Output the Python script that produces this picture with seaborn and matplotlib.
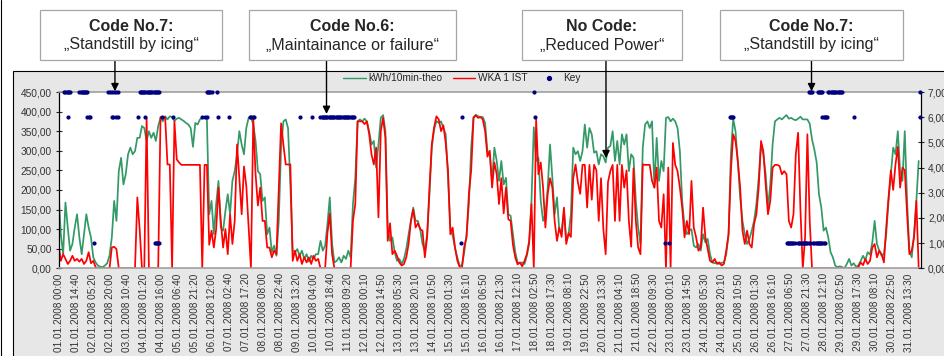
import numpy as np
import pandas as pd
import matplotlib
matplotlib.use("Agg")
import matplotlib.pyplot as plt
import seaborn as sns
from matplotlib.lines import Line2D
from matplotlib.patches import Rectangle
from matplotlib.ticker import FuncFormatter

# readings every 2 hours from 01.01.2008 00:00 (kWh per 10 min)
theo = [197, 87, 36, 168, 104, 45, 62, 104, 138, 79,
        36, 87, 138, 104, 79, 28, 15, 7, 4, 3,
        7, 13, 32, 79, 172, 121, 248, 282, 214, 240,
        291, 308, 291, 299, 333, 333, 363, 358, 325, 350,
        333, 346, 325, 363, 384, 375, 388, 380, 388, 386,
        376, 382, 384, 380, 376, 371, 367, 358, 310, 371,
        367, 380, 384, 386, 380, 138, 172, 87, 164, 223,
        104, 96, 147, 189, 138, 223, 248, 291, 350, 316,
        291, 358, 384, 386, 367, 325, 248, 240, 172, 181,
        87, 104, 41, 58, 32, 121, 308, 375, 380, 358,
        214, 45, 41, 49, 32, 45, 24, 36, 17, 32,
        24, 36, 36, 70, 45, 58, 113, 181, 62, 15,
        19, 28, 15, 32, 24,
        45, 28, 164, 230, 375, 380, 375, 382, 375, 350,
        316, 325, 257, 316, 384, 391, 350, 104, 70, 79,
        41, 19, 24, 11, 24, 49, 87, 121, 155, 121,
        121, 100, 62, 45, 87, 189, 308, 354, 376, 371,
        375, 358, 342, 231, 104, 83, 53, 28, 7, 7,
        41, 87, 164, 308, 386, 392, 388, 386, 386, 371,
        299, 291, 223, 308, 274, 223, 274, 214, 231, 138,
        134, 87, 41, 15, 13, 15, 11, 32, 62, 172,
        360, 274, 282, 172, 121, 138, 206, 316, 231, 138,
        181, 96, 96, 147, 70, 87, 138, 308, 291, 299,
        274, 299, 367, 308, 358, 342, 295, 299, 265, 291,
        286, 270, 308, 312, 350, 274, 325, 265, 342, 316,
        342, 248, 291, 282,
        172, 104, 62, 308, 367, 375, 358, 375, 206, 333,
        223, 274, 248, 384, 386, 375, 382, 375, 358, 299,
        172, 108, 87, 96, 100, 58, 53, 62, 45, 87,
        66, 75, 36, 15, 13, 15, 11, 14, 15, 36,
        87, 291, 382, 350, 270, 181, 121, 87, 62, 75,
        96, 121, 164, 231, 316, 291, 240, 155, 214, 316,
        375, 380, 384, 380, 386, 391, 382, 384, 380, 378,
        382, 387, 380, 380, 380, 369, 329, 303, 270, 189,
        155, 96, 104, 79, 41, 28, 7, 3, 5, 3,
        0, 11, 24, 7, 13, 3, 8, 19, 32, 21,
        41, 35, 66, 121, 62, 45, 32, 36, 87, 172,
        240, 308, 291, 350, 248, 223, 350, 172, 45, 28,
        87, 172, 274]

ist = [62, 19, 36, 24, 11, 19, 32, 19, 24, 17,
       24, 11, 19, 41, 13, 19, 3, 0, 0, 0,
       0, 0, 0, 53, 55, 49, 0, 0, 0, 0,
       0, 0, 0, 0, 181, 100, 0, 0, 384, 0,
       0, 0, 0, 0, 386, 386, 386, 265, 265, 0,
       375, 278, 270, 264, 264, 264, 264, 264, 264, 264,
       264, 264, 0, 264, 264, 60, 96, 53, 100, 206,
       120, 53, 100, 36, 138, 62, 121, 316, 230, 138,
       260, 210, 104, 0, 384, 240, 160, 206, 121, 121,
       53, 53, 28, 45, 36, 206, 370, 316, 265, 265,
       265, 19, 45, 19, 36, 11, 28, 15, 28, 11,
       32, 19, 24, 0, 0, 0, 90, 140, 36, 0,
       0, 0, 0, 0, 0,
       0, 0, 121, 164, 375, 375, 375, 368, 375, 342,
       291, 265, 308, 130, 350, 384, 333, 70, 115, 36,
       45, 32, 15, 7, 11, 28, 62, 121, 150, 104,
       115, 100, 96, 28, 80, 206, 316, 360, 388, 380,
       350, 365, 320, 250, 87, 104, 53, 20, 3, 0,
       55, 80, 190, 250, 384, 390, 384, 386, 380, 350,
       285, 300, 206, 270, 240, 164, 230, 140, 206, 125,
       121, 60, 28, 10, 15, 5, 19, 36, 70, 164,
       0, 380, 240, 270, 206, 104, 190, 230, 206, 120,
       70, 104, 80, 155, 62, 90, 80, 230, 265, 220,
       190, 264, 264, 155, 264, 175, 264, 250, 121, 230,
       100, 36, 220, 248, 264, 121, 264, 121, 264, 206,
       250, 121, 55, 255,
       121, 53, 36, 265, 264, 264, 264, 223, 206, 257,
       121, 104, 189, 0, 257, 0, 320, 264, 248, 206,
       155, 79, 121, 87, 223, 104, 79, 45, 53, 155,
       79, 49, 19, 15, 24, 11, 15, 7, 11, 45,
       87, 248, 342, 325, 274, 206, 96, 62, 96, 62,
       53, 113, 138, 206, 325, 299, 214, 138, 172, 257,
       264, 264, 261, 240, 248, 240, 121, 104, 138, 291,
       346, 150, 0, 79, 342, 121, 0, 0, 0, 0,
       0, 0, 0, 0, 0, 0, 0, 0, 0, 0,
       0, 0, 0, 0, 0, 0, 3, 15, 8, 24,
       11, 19, 53, 62, 28, 45, 36, 15, 104, 181,
       250, 200, 265, 310, 206, 257, 250, 138, 36, 45,
       79, 172, 0]

# hours (from 01.01.2008 00:00) where the status key was logged
key7_h = [5, 6, 7, 8, 9, 10, 18, 19, 20, 21, 22, 23, 24, 25, 43, 44, 46, 48, 50, 51,
          70, 71, 72, 73, 74, 75, 76, 77, 78, 79, 80, 81, 82, 83, 84, 85, 86, 87,
          128, 129, 130, 131, 132, 137, 410, 647, 648, 649, 650, 655, 656, 657, 658, 659,
          664, 665, 666, 667, 668, 669, 670, 671, 672, 673, 674, 675, 676, 743]
key6_h = [8, 25, 26, 27, 46, 47, 50, 51, 69, 75, 89, 99, 124, 126, 128, 138, 147,
          165, 166, 168, 169, 208, 219,
          226, 227, 228, 229, 230, 231, 232, 233, 234, 235, 236, 237, 238, 239, 240,
          241, 242, 243, 244, 245, 246, 247, 248, 249, 250, 251, 252, 253, 254, 255,
          348, 411, 579, 580, 581, 582, 659, 660, 661, 662, 663, 686, 743]
key1_h = [31, 83, 84, 85, 86, 87, 347, 523, 527,
          628, 629, 630, 631, 632, 633, 634, 635,
          638, 639, 640, 641, 642, 643, 644, 645, 646, 647, 648,
          651, 652, 653, 654, 655, 656, 657, 658, 659, 660, 661]

tick_labels = ['01.01.2008 00:00', '01.01.2008 14:40', '02.01.2008 05:20', '02.01.2008 20:00',
               '03.01.2008 10:40', '04.01.2008 01:20', '04.01.2008 16:00', '05.01.2008 06:40',
               '05.01.2008 21:20', '06.01.2008 12:00', '07.01.2008 02:40', '07.01.2008 17:20',
               '08.01.2008 08:00', '08.01.2008 22:40', '09.01.2008 13:20', '10.01.2008 04:00',
               '10.01.2008 18:40', '11.01.2008 09:20', '12.01.2008 00:10', '12.01.2008 14:50',
               '13.01.2008 05:30', '13.01.2008 20:10', '14.01.2008 10:50', '15.01.2008 01:30',
               '15.01.2008 16:10', '16.01.2008 06:50', '16.01.2008 21:30', '17.01.2008 12:10',
               '18.01.2008 02:50', '18.01.2008 17:30', '19.01.2008 08:10', '19.01.2008 22:50',
               '20.01.2008 13:30', '21.01.2008 04:10', '21.01.2008 18:50', '22.01.2008 09:30',
               '23.01.2008 00:10', '23.01.2008 14:50', '24.01.2008 05:30', '24.01.2008 20:10',
               '25.01.2008 10:50', '26.01.2008 01:30', '26.01.2008 16:10', '27.01.2008 06:50',
               '27.01.2008 21:30', '28.01.2008 12:10', '29.01.2008 02:50', '29.01.2008 17:30',
               '30.01.2008 08:10', '30.01.2008 22:50', '31.01.2008 13:30']

callouts = [('Code No.7:', '„Standstill by icing“'),
            ('Code No.6:', '„Maintainance or failure“'),
            ('No Code:', '„Reduced Power“'),
            ('Code No.7:', '„Standstill by icing“')]

df = pd.DataFrame({'hour': np.arange(len(theo)) * 2, 'theo': theo, 'ist': ist})
key = pd.DataFrame({'hour': key7_h + key6_h + key1_h,
                    'code': [7] * len(key7_h) + [6] * len(key6_h) + [1] * len(key1_h)})

sns.set_style('white')
plt.rcParams['font.family'] = ['Liberation Sans', 'DejaVu Sans']

W, H = 944, 356
fig = plt.figure(figsize=(W / 100, H / 100), dpi=100)
fig.patch.set_facecolor('white')


def fx(x):
    return x / W


def fy(y):
    return 1 - y / H


# grey chart frame and left page border
fig.add_artist(Rectangle((fx(12.7), -0.05), 1.1, fy(71) + 0.05, transform=fig.transFigure,
                         facecolor='#e7e7e7', edgecolor='black', lw=0.8, zorder=-10))
fig.add_artist(Line2D([fx(0.5), fx(0.5)], [0, 1], transform=fig.transFigure, color='black', lw=0.8))

ax = fig.add_axes([fx(58.5), fy(268.3), fx(921) - fx(58.5), fy(92) - fy(268.3)])
ax.set_facecolor('white')

sns.lineplot(data=df, x='hour', y='theo', ax=ax, color='#339966', lw=1.25, errorbar=None)
sns.lineplot(data=df, x='hour', y='ist', ax=ax, color='#ff0000', lw=1.25, errorbar=None)

ax.set_xlim(0, 744)
ax.set_ylim(0, 450)
ax.set_yticks(np.arange(0, 451, 50))
ax.yaxis.set_major_formatter(FuncFormatter(lambda v, p: f'{v:.2f}'.replace('.', ',')))
ax.set_xticks(np.arange(len(tick_labels)) * 88 / 6)
ax.set_xticklabels(tick_labels, rotation=90, fontsize=7.2, color='#333333')
ax.tick_params(axis='x', length=0, pad=3.5)
ax.tick_params(axis='y', direction='inout', length=5, width=0.8, pad=2.5,
               labelsize=7.3, labelcolor='#333333')
ax.set_xlabel('')
ax.set_ylabel('')
for s in ['top', 'bottom']:
    ax.spines[s].set_color('#a0a0a0')
    ax.spines[s].set_linewidth(1.2)
ax.spines['left'].set_color('black')
ax.spines['left'].set_linewidth(0.9)
ax.spines['right'].set_visible(False)

ax2 = ax.twinx()
sns.scatterplot(data=key, x='hour', y='code', ax=ax2, color='#000080', s=9,
                linewidth=0, clip_on=False, legend=False, zorder=5)
ax2.set_ylim(0, 7)
ax2.set_xlim(0, 744)
ax2.set_yticks(range(8))
ax2.yaxis.set_major_formatter(FuncFormatter(lambda v, p: f'{v:.2f}'.replace('.', ',')))
ax2.tick_params(axis='y', direction='inout', length=5, width=0.8, pad=2.5,
                labelsize=7.3, labelcolor='#333333')
ax2.set_ylabel('')
ax2.set_xlabel('')
for s in ['top', 'bottom', 'left']:
    ax2.spines[s].set_visible(False)
ax2.spines['right'].set_color('black')
ax2.spines['right'].set_linewidth(0.9)

handles = [Line2D([], [], color='#339966', lw=1.0),
           Line2D([], [], color='#ff0000', lw=1.0),
           Line2D([], [], color='#000080', marker='o', ls='none', markersize=2.8)]
fig.legend(handles, ['kWh/10min-theo', 'WKA 1 IST', 'Key'], loc='center',
           bbox_to_anchor=(fx(462), fy(78.3)), ncol=3, frameon=False, fontsize=7.3,
           handlelength=2.2, handletextpad=0.3, columnspacing=1.0, borderaxespad=0)

# callout boxes with arrows
box_x = [(40, 222), (249, 456), (522, 682), (720, 903)]
arrow_tips = [(48.7, 452), (231.2, 394), (472.3, 281), (649.6, 452)]
for (x0, x1), (title, sub), (th, tv) in zip(box_x, callouts, arrow_tips):
    fig.add_artist(Rectangle((fx(x0), fy(60)), fx(x1) - fx(x0), fy(10) - fy(60),
                             transform=fig.transFigure, facecolor='white',
                             edgecolor='#a6a6a6', lw=0.9))
    cx = (x0 + x1) / 2
    fig.text(fx(cx), fy(31), title, ha='center', va='baseline', fontsize=11.5, fontweight='bold')
    fig.text(fx(cx), fy(49.5), sub, ha='center', va='baseline', fontsize=11.5)
    tip_x = 58.5 + th / 0.8627
    ax.annotate('', xy=(th, tv), xycoords='data', xytext=(fx(tip_x), fy(60)),
                textcoords='figure fraction', annotation_clip=False,
                arrowprops=dict(arrowstyle='-|>', color='black', lw=1.0,
                                mutation_scale=11, shrinkA=0, shrinkB=0))

fig.savefig('out.png', dpi=100)
